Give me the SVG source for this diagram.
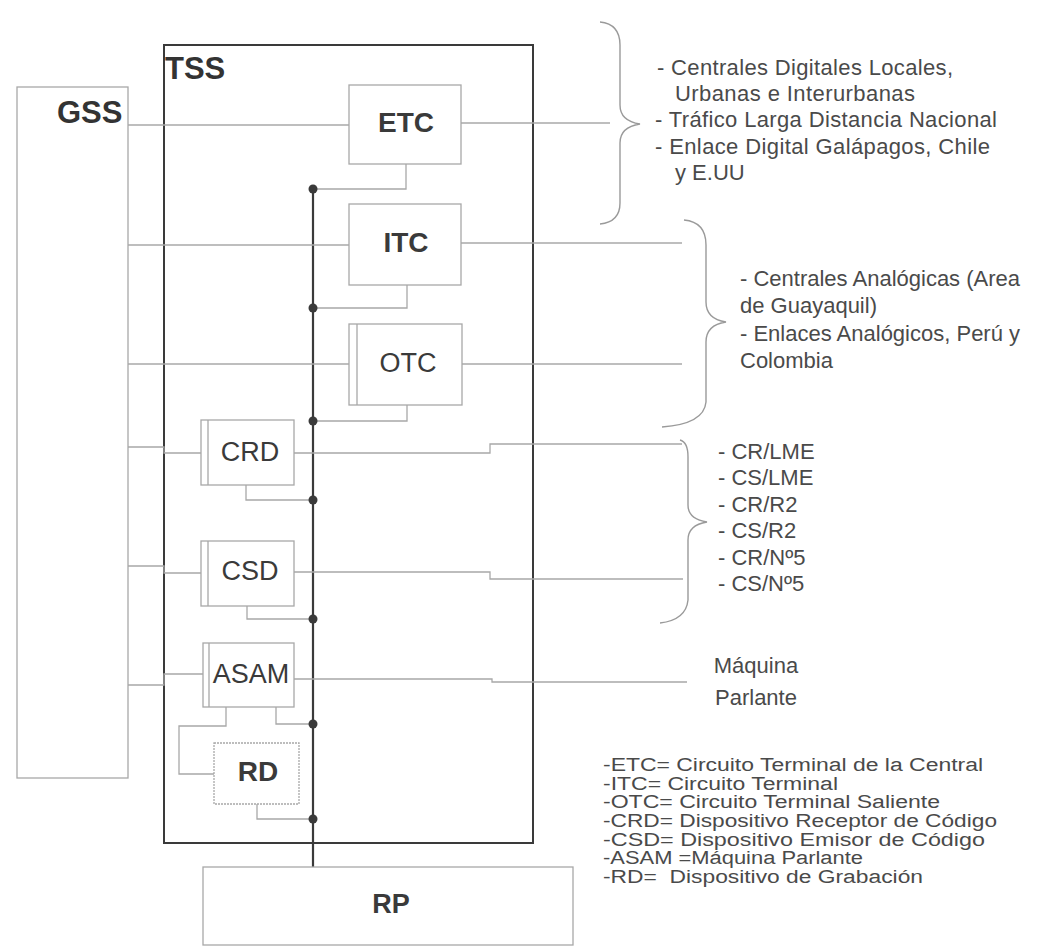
<svg xmlns="http://www.w3.org/2000/svg" width="1037" height="946" viewBox="0 0 1037 946">
<defs>
<style>
.bg{fill:#ffffff}
.box{fill:#ffffff;stroke:#a8a8a8;stroke-width:1.3}
.thin{fill:none;stroke:#a8a8a8;stroke-width:1.3}
.tss{fill:none;stroke:#3a3a3a;stroke-width:2}
.bus{fill:none;stroke:#3a3a3a;stroke-width:2.2}
.dot{fill:#3a3a3a}
.brace{fill:none;stroke:#9a9a9a;stroke-width:1.4}
.lbl{font-family:"Liberation Sans",Arial,sans-serif;fill:#3a3a3a;text-anchor:middle}
.b{font-weight:bold}
.big{font-family:"Liberation Sans",Arial,sans-serif;fill:#333;font-weight:bold;font-size:31px}
.note{font-family:"Liberation Sans",Arial,sans-serif;fill:#4a4a4a;font-size:22px}
.leg{font-family:"Liberation Sans",Arial,sans-serif;fill:#4a4a4a;font-size:18px}
</style>
</defs>
<rect class="bg" x="0" y="0" width="1037" height="946"/>

<g id="GSS">
<rect class="box" x="17" y="87" width="111" height="691"/>
<text class="big" x="57" y="123">GSS</text>
</g>

<g id="TSS">
<rect class="tss" x="164" y="45" width="369" height="798"/>
<text class="big" x="165" y="79">TSS</text>
</g>

<g id="connectors">
<line class="bus" x1="313" y1="189" x2="313" y2="867"/>
<line class="thin" x1="128" y1="125" x2="349" y2="125"/>
<line class="thin" x1="128" y1="245" x2="349" y2="245"/>
<line class="thin" x1="128" y1="364" x2="349" y2="364"/>
<polyline class="thin" points="128,447 164,447 164,453 201,453"/>
<polyline class="thin" points="128,566 164,566 164,573 201,573"/>
<polyline class="thin" points="128,685 164,685 164,674 203,674"/>
<line class="thin" x1="461" y1="123" x2="610" y2="123"/>
<line class="thin" x1="461" y1="243" x2="682" y2="243"/>
<line class="thin" x1="462" y1="364" x2="682" y2="364"/>
<polyline class="thin" points="294,453 490,453 490,444 682,444"/>
<polyline class="thin" points="294,572 490,572 490,579 683,579"/>
<polyline class="thin" points="294,679 492,679 492,682 687,682"/>
<polyline class="thin" points="406,164 406,189 313,189"/>
<polyline class="thin" points="407,285 407,308 313,308"/>
<polyline class="thin" points="407,405 407,421 313,421"/>
<polyline class="thin" points="246,485 246,500 313,500"/>
<polyline class="thin" points="247,606 247,619 313,619"/>
<polyline class="thin" points="276,707 276,724 313,724"/>
<polyline class="thin" points="226,707 226,726 179,726 179,774 214,774"/>
<polyline class="thin" points="257,804 257,819 313,819"/>
<circle class="dot" cx="313" cy="189" r="4.5"/>
<circle class="dot" cx="313" cy="308" r="4.5"/>
<circle class="dot" cx="313" cy="421" r="4.5"/>
<circle class="dot" cx="313" cy="500" r="4.5"/>
<circle class="dot" cx="313" cy="619" r="4.5"/>
<circle class="dot" cx="313" cy="724" r="4.5"/>
<circle class="dot" cx="313" cy="819" r="4.5"/>
<path class="brace" d="M600,22 Q620,24 620,45 L620,105 Q620,121 640,124 Q620,127 620,143 L620,203 Q620,222 600,224"/>
<path class="brace" d="M684,220 Q706,222 706,245 L706,302 Q706,319 726,322 Q706,325 706,342 L706,402 Q704,424 662,427"/>
<path class="brace" d="M680,440 Q688,442 688,457 L688,505 Q688,519 707,522 Q688,525 688,540 L688,600 Q686,620 660,623"/>
</g>

<g id="ETC">
<rect class="box" x="349" y="85" width="112" height="79"/>
<text class="lbl b" x="406" y="132" font-size="28">ETC</text>
</g>
<g id="ITC">
<rect class="box" x="349" y="204" width="112" height="81"/>
<text class="lbl b" x="406" y="252" font-size="28">ITC</text>
</g>
<g id="OTC">
<rect class="box" x="349" y="324" width="113" height="81"/>
<line class="thin" x1="357" y1="324" x2="357" y2="405"/>
<text class="lbl" x="408" y="372" font-size="27">OTC</text>
</g>
<g id="CRD">
<rect class="box" x="201" y="420" width="93" height="65"/>
<line class="thin" x1="208" y1="420" x2="208" y2="485"/>
<text class="lbl" x="250" y="461" font-size="27">CRD</text>
</g>
<g id="CSD">
<rect class="box" x="201" y="541" width="93" height="65"/>
<line class="thin" x1="208" y1="541" x2="208" y2="606"/>
<text class="lbl" x="250" y="580" font-size="27">CSD</text>
</g>
<g id="ASAM">
<rect class="box" x="203" y="643" width="91" height="64"/>
<line class="thin" x1="209" y1="643" x2="209" y2="707"/>
<text class="lbl" x="251" y="683" font-size="27">ASAM</text>
</g>
<g id="RD">
<rect class="box" x="214" y="743" width="85" height="61" stroke-dasharray="2 1"/>
<text class="lbl b" x="258" y="781" font-size="28">RD</text>
</g>
<g id="RP">
<rect class="box" x="203" y="867" width="370" height="78"/>
<text class="lbl b" x="391" y="913" font-size="27">RP</text>
</g>

<g id="notes">
<text class="note" x="657" y="75" textLength="296">- Centrales Digitales Locales,</text>
<text class="note" x="675" y="101" textLength="240">Urbanas e Interurbanas</text>
<text class="note" x="655" y="127" textLength="342">- Tráfico Larga Distancia Nacional</text>
<text class="note" x="655" y="154" textLength="335">- Enlace Digital Galápagos, Chile</text>
<text class="note" x="675" y="180">y E.UU</text>

<text class="note" x="740" y="286">- Centrales Analógicas (Area</text>
<text class="note" x="740" y="313">de Guayaquil)</text>
<text class="note" x="740" y="341">- Enlaces Analógicos, Perú y</text>
<text class="note" x="740" y="368">Colombia</text>

<text class="note" x="718" y="459">- CR/LME</text>
<text class="note" x="718" y="485">- CS/LME</text>
<text class="note" x="718" y="512">- CR/R2</text>
<text class="note" x="718" y="538">- CS/R2</text>
<text class="note" x="718" y="565">- CR/Nº5</text>
<text class="note" x="718" y="591">- CS/Nº5</text>

<text class="note" x="756" y="673" text-anchor="middle" font-size="24">Máquina</text>
<text class="note" x="756" y="705" text-anchor="middle" font-size="24">Parlante</text>
</g>

<g id="legend">
<text class="leg" x="603" y="771" textLength="380" lengthAdjust="spacingAndGlyphs">-ETC= Circuito Terminal de la Central</text>
<text class="leg" x="603" y="790" textLength="235" lengthAdjust="spacingAndGlyphs">-ITC= Circuito Terminal</text>
<text class="leg" x="603" y="808" textLength="337" lengthAdjust="spacingAndGlyphs">-OTC= Circuito Terminal Saliente</text>
<text class="leg" x="603" y="827" textLength="394" lengthAdjust="spacingAndGlyphs">-CRD= Dispositivo Receptor de Código</text>
<text class="leg" x="603" y="846" textLength="382" lengthAdjust="spacingAndGlyphs">-CSD= Dispositivo Emisor de Código</text>
<text class="leg" x="603" y="864" textLength="260" lengthAdjust="spacingAndGlyphs">-ASAM =Máquina Parlante</text>
<text class="leg" x="603" y="883" textLength="320" lengthAdjust="spacingAndGlyphs" xml:space="preserve">-RD=  Dispositivo de Grabación</text>
</g>
</svg>
